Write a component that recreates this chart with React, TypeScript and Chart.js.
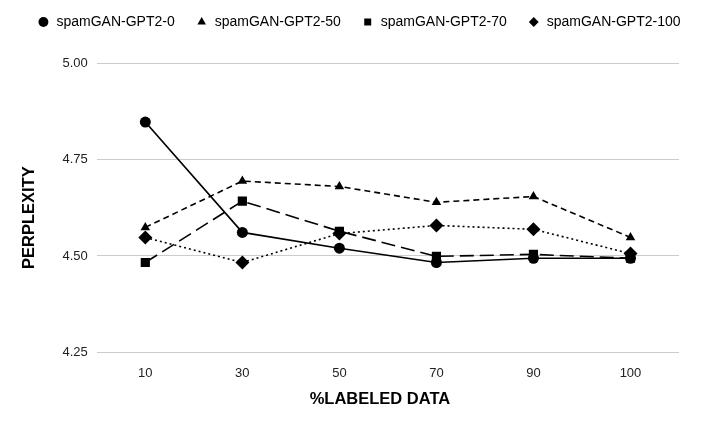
import { useEffect, useRef } from "react";
import { Chart, registerables } from "chart.js";

Chart.register(...registerables);

const labeledData = ["10", "30", "50", "70", "90", "100"];
const gpt2_0 = [4.847, 4.561, 4.52, 4.483, 4.494, 4.494];
const gpt2_50 = [4.574, 4.694, 4.68, 4.639, 4.654, 4.548];
const gpt2_70 = [4.483, 4.642, 4.564, 4.499, 4.504, 4.494];
const gpt2_100 = [4.548, 4.483, 4.558, 4.579, 4.569, 4.506];
const yTicks = [4.25, 4.5, 4.75, 5.0];
const xTitle = "%LABELED DATA";
const yTitle = "PERPLEXITY";

const FONT = "'Liberation Sans', Arial, sans-serif";

// keep the legend on one row, centred on the whole canvas, near the top
const legendPlacement = {
  id: "legendPlacement",
  beforeLayout(chart: any) {
    const l = chart.legend;
    if (!l || l._wide) return;
    const fit = l.fit.bind(l);
    l.fit = function () {
      this.maxWidth = chart.width;
      fit();
    };
    l._wide = true;
  },
  afterLayout(chart: any) {
    const l = chart.legend;
    if (!l) return;
    const h = l.height;
    l.left = 0;
    l.right = chart.width;
    l.width = chart.width;
    l.top = -6;
    l.bottom = l.top + h;
  },
};

// axis titles sit a little off the axis centres in the original
const axisTitles = {
  id: "axisTitles",
  afterDraw(chart: any) {
    const { ctx, chartArea } = chart;
    ctx.save();
    ctx.fillStyle = "#000000";
    ctx.font = `bold 16.5px ${FONT}`;
    ctx.textAlign = "center";
    ctx.textBaseline = "middle";
    ctx.fillText(xTitle, (chartArea.left + chartArea.right) / 2 - 8, 399);
    ctx.translate(29, (chartArea.top + chartArea.bottom) / 2 + 10);
    ctx.rotate(-Math.PI / 2);
    ctx.fillText(yTitle, 0, 0);
    ctx.restore();
  },
};

const App = () => {
  const chartRef = useRef<HTMLCanvasElement>(null);

  useEffect(() => {
    if (!chartRef.current) return;
    const ctx = chartRef.current.getContext("2d");
    if (!ctx) return;

    const line = (
      label: string,
      data: number[],
      pointStyle: string,
      radius: number,
      dash: number[]
    ) => ({
      label,
      data,
      borderColor: "#000000",
      backgroundColor: "#000000",
      pointBackgroundColor: "#000000",
      pointBorderColor: "#000000",
      borderWidth: 1.6,
      borderDash: dash,
      pointStyle,
      pointRadius: radius,
      pointBorderWidth: 0,
      tension: 0,
      fill: false,
    });

    const chart = new Chart(ctx, {
      type: "line",
      data: {
        labels: labeledData,
        datasets: [
          line("spamGAN-GPT2-0", gpt2_0, "circle", 5.5, []),
          line("spamGAN-GPT2-50", gpt2_50, "triangle", 5.5, [6, 4]),
          line("spamGAN-GPT2-70", gpt2_70, "rect", 6.5, [14, 6]),
          line("spamGAN-GPT2-100", gpt2_100, "rectRot", 7, [2, 3]),
        ] as any,
      },
      plugins: [legendPlacement, axisTitles],
      options: {
        animation: false,
        responsive: true,
        maintainAspectRatio: false,
        layout: { padding: { left: 53.5, right: 39, top: 18, bottom: 57 } },
        plugins: {
          legend: {
            display: true,
            position: "top",
            labels: {
              color: "#000000",
              usePointStyle: true,
              boxWidth: 12,
              boxHeight: 7,
              padding: 21,
              font: { family: FONT, size: 14 },
            },
          },
          tooltip: { enabled: false },
        },
        scales: {
          x: {
            offset: true,
            grid: { display: false },
            border: { display: false },
            ticks: {
              color: "#222222",
              padding: 5,
              font: { family: FONT, size: 13 },
            },
          },
          y: {
            min: 4.25,
            max: 5.0,
            afterBuildTicks: (axis: any) => {
              axis.ticks = yTicks.map((v) => ({ value: v }));
            },
            grid: {
              color: "#cccccc",
              lineWidth: 1,
              drawTicks: false,
            },
            border: { display: false },
            ticks: {
              color: "#222222",
              padding: 9,
              font: { family: FONT, size: 13 },
              callback: (v: any) => Number(v).toFixed(2),
            },
          },
        },
      },
    });
    return () => chart.destroy();
  }, []);

  return (
    <div
      style={{
        position: "absolute",
        left: 0,
        top: 0,
        width: 718,
        height: 443,
        background: "#ffffff",
      }}
    >
      <canvas ref={chartRef}></canvas>
    </div>
  );
};

export default App;
